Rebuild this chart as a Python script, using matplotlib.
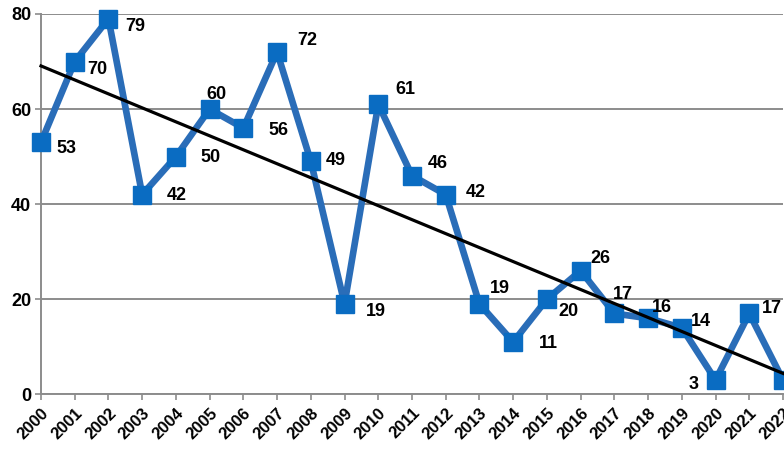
import matplotlib
matplotlib.use("Agg")
import matplotlib.pyplot as plt
import numpy as np

years = list(range(2000, 2023))
values = [53, 70, 79, 42, 50, 60, 56, 72, 49, 19, 61, 46, 42, 19, 11, 20, 26, 17, 16, 14, 3, 17, 3]
yticks = [0, 20, 40, 60, 80]

# label offsets in pixels (dx, dy up) relative to marker
label_off_px = [(25, -6), (23, -8), (27, -8), (35, -1), (35, -1), (7, 15), (35, -2), (30, 12),
                (25, 1), (31, -8), (27, 15), (26, 12), (30, 2), (20, 15), (35, -1), (22, -12),
                (20, 12), (9, 19), (14, 11), (19, 6), (-22, -4), (23, 5), (23, 5)]

plt.rcParams['font.family'] = ['Liberation Sans', 'DejaVu Sans']

W, H = 784, 451
fig = plt.figure(figsize=(W / 100, H / 100), dpi=100)
ax = fig.add_axes([41 / W, (H - 394.3) / H, 742 / W, (394.3 - 14) / H])

x = np.array(years)
y = np.array(values)
ax.plot(x, y, color='#2A6DB8', lw=4.8, marker='s', ms=13.5, mfc='#0A6CC2', mec='#0A6CC2',
        clip_on=False, zorder=3)

coef = np.polyfit(x, y, 1)
ax.plot([2000, 2022], np.polyval(coef, [2000, 2022]), color='black', lw=2.3, zorder=4, clip_on=False)

for xi, yi, (dx, dy) in zip(x, y, label_off_px):
    ax.annotate(str(yi), (xi, yi), xytext=(dx * 0.72, dy * 0.72), textcoords='offset points',
                ha='center', va='center', fontsize=13, fontweight='bold', color='black',
                annotation_clip=False, zorder=5)

ax.set_xlim(2000, 2022)
ax.set_ylim(0, 80)
ax.set_yticks(yticks)
ax.set_yticklabels([str(t) for t in yticks], fontsize=13, fontweight='bold')
ax.set_xticks(years)
ax.set_xticklabels([str(v) for v in years], rotation=45, ha='right', rotation_mode='anchor',
                   fontsize=12, fontweight='bold')
ax.yaxis.grid(True, color='#8C8C8C', lw=1.4)
ax.set_axisbelow(True)
for s in ['top', 'right']:
    ax.spines[s].set_visible(False)
for s in ['left', 'bottom']:
    ax.spines[s].set_color('#8C8C8C')
    ax.spines[s].set_linewidth(1.4)
ax.tick_params(axis='both', color='#8C8C8C', length=4, width=1.2, pad=3)
ax.tick_params(axis='x', pad=4)

fig.savefig('out.png', dpi=100)
